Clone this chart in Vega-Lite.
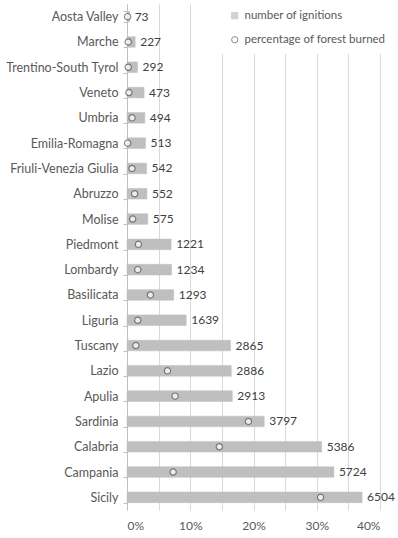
{
  "$schema": "https://vega.github.io/schema/vega-lite/v6.json",
  "width": 253,
  "height": 506,
  "autosize": {"type": "none"},
  "padding": {"left": 127, "top": 4, "right": 18, "bottom": 28},
  "background": "white",
  "config": {
    "font": "Lato",
    "view": {"stroke": null},
    "axis": {"labelFont": "Lato", "labelColor": "#595959", "labelFontSize": 12}
  },
  "data": {
    "values": [
      {"region": "Aosta Valley", "series": "number of ignitions", "value": 73},
      {"region": "Marche", "series": "number of ignitions", "value": 227},
      {"region": "Trentino-South Tyrol", "series": "number of ignitions", "value": 292},
      {"region": "Veneto", "series": "number of ignitions", "value": 473},
      {"region": "Umbria", "series": "number of ignitions", "value": 494},
      {"region": "Emilia-Romagna", "series": "number of ignitions", "value": 513},
      {"region": "Friuli-Venezia Giulia", "series": "number of ignitions", "value": 542},
      {"region": "Abruzzo", "series": "number of ignitions", "value": 552},
      {"region": "Molise", "series": "number of ignitions", "value": 575},
      {"region": "Piedmont", "series": "number of ignitions", "value": 1221},
      {"region": "Lombardy", "series": "number of ignitions", "value": 1234},
      {"region": "Basilicata", "series": "number of ignitions", "value": 1293},
      {"region": "Liguria", "series": "number of ignitions", "value": 1639},
      {"region": "Tuscany", "series": "number of ignitions", "value": 2865},
      {"region": "Lazio", "series": "number of ignitions", "value": 2886},
      {"region": "Apulia", "series": "number of ignitions", "value": 2913},
      {"region": "Sardinia", "series": "number of ignitions", "value": 3797},
      {"region": "Calabria", "series": "number of ignitions", "value": 5386},
      {"region": "Campania", "series": "number of ignitions", "value": 5724},
      {"region": "Sicily", "series": "number of ignitions", "value": 6504},
      {"region": "Aosta Valley", "series": "percentage of forest burned", "value": 0.1},
      {"region": "Marche", "series": "percentage of forest burned", "value": 0.2},
      {"region": "Trentino-South Tyrol", "series": "percentage of forest burned", "value": 0.2},
      {"region": "Veneto", "series": "percentage of forest burned", "value": 0.3},
      {"region": "Umbria", "series": "percentage of forest burned", "value": 0.8},
      {"region": "Emilia-Romagna", "series": "percentage of forest burned", "value": 0.1},
      {"region": "Friuli-Venezia Giulia", "series": "percentage of forest burned", "value": 0.8},
      {"region": "Abruzzo", "series": "percentage of forest burned", "value": 1.2},
      {"region": "Molise", "series": "percentage of forest burned", "value": 0.9},
      {"region": "Piedmont", "series": "percentage of forest burned", "value": 1.8},
      {"region": "Lombardy", "series": "percentage of forest burned", "value": 1.7},
      {"region": "Basilicata", "series": "percentage of forest burned", "value": 3.7},
      {"region": "Liguria", "series": "percentage of forest burned", "value": 1.7},
      {"region": "Tuscany", "series": "percentage of forest burned", "value": 1.4},
      {"region": "Lazio", "series": "percentage of forest burned", "value": 6.4},
      {"region": "Apulia", "series": "percentage of forest burned", "value": 7.6},
      {"region": "Sardinia", "series": "percentage of forest burned", "value": 19.2},
      {"region": "Calabria", "series": "percentage of forest burned", "value": 14.6},
      {"region": "Campania", "series": "percentage of forest burned", "value": 7.3},
      {"region": "Sicily", "series": "percentage of forest burned", "value": 30.6}
    ]
  },
  "encoding": {
    "y": {
      "field": "region",
      "type": "nominal",
      "title": null,
      "sort": ["Aosta Valley", "Marche", "Trentino-South Tyrol", "Veneto", "Umbria", "Emilia-Romagna", "Friuli-Venezia Giulia", "Abruzzo", "Molise", "Piedmont", "Lombardy", "Basilicata", "Liguria", "Tuscany", "Lazio", "Apulia", "Sardinia", "Calabria", "Campania", "Sicily"],
      "scale": {"paddingInner": 0.58, "paddingOuter": 0.29},
      "axis": {"domainColor": "#bfbfbf", "tickColor": "#bfbfbf", "tickSize": 4, "tickBand": "extent", "labelPadding": 5, "labelFontSize": 12.5, "grid": false}
    }
  },
  "layer": [
    {
      "transform": [{"filter": "datum.series === 'number of ignitions'"}],
      "mark": {"type": "bar", "strokeWidth": 0.5},
      "encoding": {
        "x": {"field": "value", "type": "quantitative", "scale": {"domain": [0, 7000]}, "axis": null},
        "color": {
          "field": "series", "type": "nominal",
          "scale": {"domain": ["number of ignitions", "percentage of forest burned"], "range": ["#bfbfbf", "#ffffff"]},
          "legend": {"title": null, "orient": "none", "legendX": 94, "legendY": -2, "fillColor": "white", "padding": 8, "labelFontSize": 11.5, "labelColor": "#595959", "labelFont": "Lato", "symbolSize": 40, "rowPadding": 11, "symbolStrokeWidth": 1}
        },
        "stroke": {
          "field": "series", "type": "nominal",
          "scale": {"domain": ["number of ignitions", "percentage of forest burned"], "range": ["#bfbfbf", "#595959"]}
        }
      }
    },
    {
      "transform": [{"filter": "datum.series === 'number of ignitions'"}],
      "mark": {"type": "text", "align": "left", "dx": 5, "fontSize": 12, "font": "Lato", "color": "#404040"},
      "encoding": {
        "x": {"field": "value", "type": "quantitative", "scale": {"domain": [0, 7000]}, "axis": null},
        "text": {"field": "value", "type": "quantitative"}
      }
    },
    {
      "transform": [{"filter": "datum.series === 'percentage of forest burned'"}],
      "mark": {"type": "point", "filled": true, "size": 40, "strokeWidth": 1.2},
      "encoding": {
        "x": {
          "field": "value", "type": "quantitative",
          "scale": {"domain": [0, 40], "nice": false},
          "axis": {"title": null, "values": [0, 5, 10, 15, 20, 25, 30, 35, 40], "labelExpr": "datum.value % 10 === 0 ? datum.value + '%' : ''", "grid": true, "gridColor": "#d9d9d9", "ticks": false, "domain": false, "labelPadding": 10}
        },
        "color": {"field": "series", "type": "nominal"},
        "shape": {
          "field": "series", "type": "nominal",
          "scale": {"domain": ["number of ignitions", "percentage of forest burned"], "range": ["square", "circle"]}
        },
        "stroke": {"field": "series", "type": "nominal"}
      }
    }
  ],
  "resolve": {"scale": {"x": "independent"}}
}
